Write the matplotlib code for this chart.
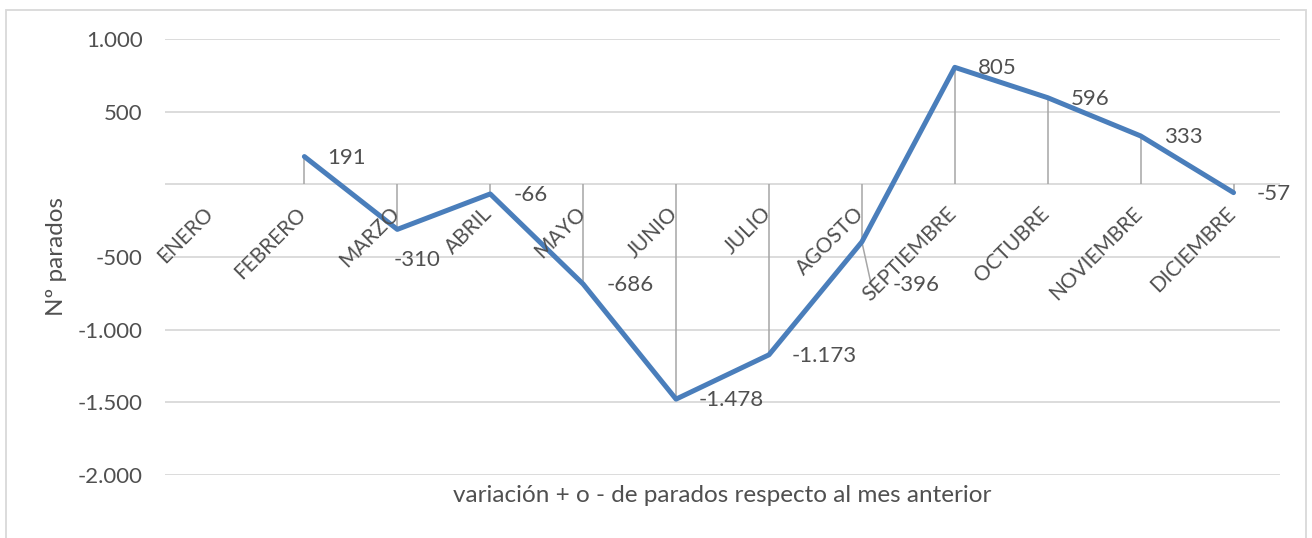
import matplotlib
matplotlib.use('Agg')
import matplotlib.pyplot as plt
from matplotlib.patches import Rectangle
from matplotlib.ticker import FuncFormatter
import numpy as np

# ---- data ----
months = ['ENERO', 'FEBRERO', 'MARZO', 'ABRIL', 'MAYO', 'JUNIO', 'JULIO',
          'AGOSTO', 'SEPTIEMBRE', 'OCTUBRE', 'NOVIEMBRE', 'DICIEMBRE']
values = [np.nan, 191, -310, -66, -686, -1478, -1173, -396, 805, 596, 333, -57]
y_ticks = [1000, 500, 0, -500, -1000, -1500, -2000]
x_title = 'variación + o - de parados respecto al mes anterior'
y_title = 'Nº parados'

plt.rcParams['font.family'] = ['Lato', 'DejaVu Sans']
TXT = '#505050'
FS = 16
W, H = 1312, 538

def fmt(v):
    if v == 0:
        return ''
    s = f'{abs(v):,.0f}'.replace(',', '.')
    return ('-' if v < 0 else '') + s

fig = plt.figure(figsize=(W / 100, H / 100), dpi=100)
ax = fig.add_axes([165 / W, 1 - 475 / H, (1280 - 165) / W, (475 - 39) / H])
x = np.arange(len(months))
vals = np.array(values, dtype=float)

ax.set_xlim(-0.5, len(months) - 0.5)
ax.set_ylim(-2000, 1000)
ax.set_yticks(y_ticks)
ax.yaxis.set_major_formatter(FuncFormatter(lambda v, p: fmt(v)))
ax.tick_params(axis='y', length=0, pad=16, labelsize=FS, labelcolor=TXT)
ax.set_xticks([])
for s in ax.spines.values():
    s.set_visible(False)
ax.yaxis.grid(True, color='#D9D9D9', lw=1.3)
ax.set_axisbelow(True)

# drop lines
mask = ~np.isnan(vals)
ax.vlines(x[mask], 0, vals[mask], color='#A6A6A6', lw=1.1, zorder=2)

# line
ax.plot(x, vals, color='#4A7EBB', lw=3.6, solid_joinstyle='round',
        solid_capstyle='round', zorder=3)

# category labels at zero line
for i, m in enumerate(months):
    ax.annotate(m, (i, 0), xytext=(6, -19), textcoords='offset pixels',
                rotation=45, ha='right', va='top', fontsize=15, color=TXT,
                zorder=4)

# data labels
offsets = {2: (-4, -31), 7: (31, -43)}
for i, v in enumerate(vals):
    if np.isnan(v):
        continue
    dx, dy = offsets.get(i, (23, -1))
    ax.annotate(fmt(v), (i, v), xytext=(dx, dy), textcoords='offset pixels',
                ha='left', va='center', fontsize=FS, color=TXT, zorder=5)

# leader line for AGOSTO label
ax.annotate('', (x[7], vals[7]), xytext=(9, -41), textcoords='offset pixels',
            arrowprops=dict(arrowstyle='-', color='#A6A6A6', lw=1.1,
                            shrinkA=0, shrinkB=0), zorder=2)

# titles
fig.text(722 / W, 1 - 496 / H, x_title, ha='center', va='center',
         fontsize=17.5, color=TXT)
fig.text(57 / W, 1 - 257 / H, y_title, ha='center', va='center',
         rotation=90, fontsize=17.5, color=TXT)

# outer frame
fig.patches.append(Rectangle((6 / W, -0.05), (1306 - 6) / W, 1 - 10 / H + 0.05,
                             transform=fig.transFigure, fill=False,
                             edgecolor='#D9D9D9', lw=1.3))

fig.savefig('out.png', dpi=100)
